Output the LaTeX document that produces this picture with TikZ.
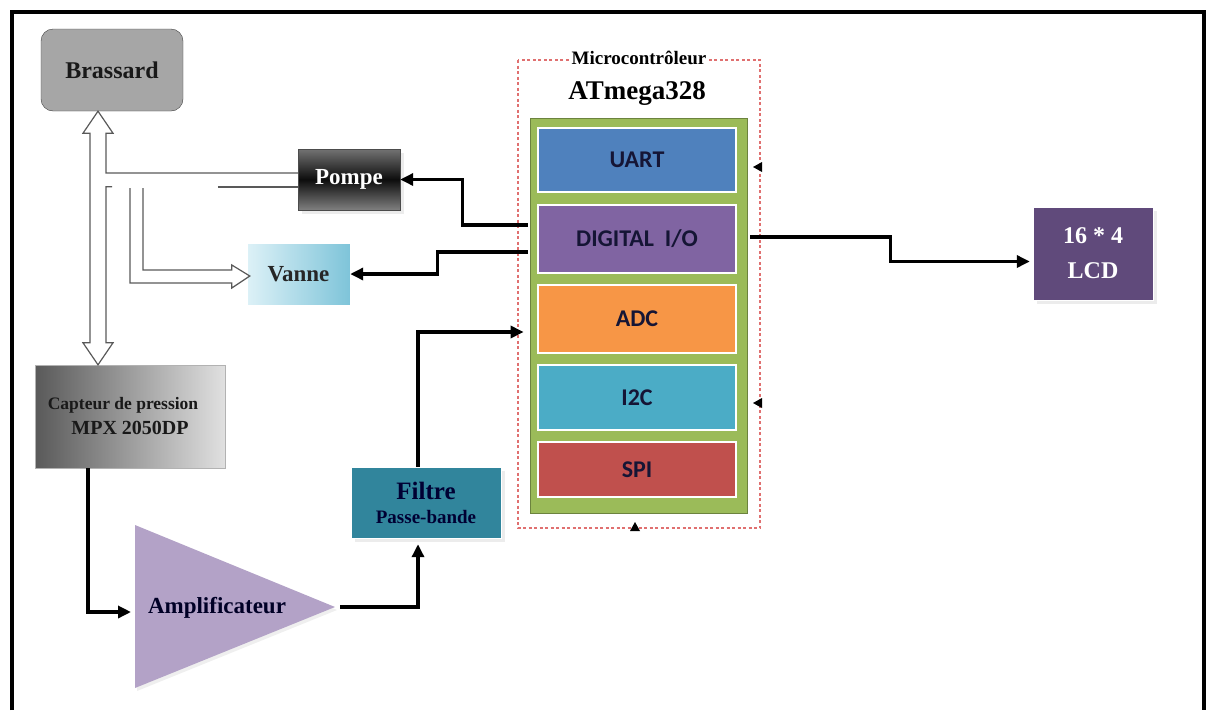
\documentclass[tikz,border=0pt]{standalone}
\usepackage{fontspec}
\setmainfont{Liberation Serif}
\newfontfamily\calfont{Carlito}
\usetikzlibrary{arrows.meta,calc,shadows,positioning}

\definecolor{uartcol}{HTML}{4F81BD}
\definecolor{diocol}{HTML}{8064A2}
\definecolor{adccol}{HTML}{F79646}
\definecolor{i2ccol}{HTML}{4BACC6}
\definecolor{spicol}{HTML}{C0504D}
\definecolor{mcugreen}{HTML}{9BBB59}
\definecolor{modtext}{HTML}{151535}
\definecolor{lcdcol}{HTML}{604A7B}
\definecolor{filtrecol}{HTML}{31859C}
\definecolor{ampcol}{HTML}{B3A2C7}
\definecolor{framered}{HTML}{E07070}

\tikzset{
  blk/.style={inner sep=0pt, align=center, font=\bfseries},
  module/.style={draw=white, line width=2.5pt, minimum width=198pt, inner sep=0pt,
    text=modtext, font=\calfont\bfseries\fontsize{24}{28}\selectfont},
  sig/.style={line width=3.5pt, -{Triangle[length=13pt,width=12pt]}},
  tube/.style={draw=gray!70!black, line width=1.2pt},
  shade box/.style={drop shadow={shadow xshift=4pt, shadow yshift=-4pt, fill=gray!30}},
}

\begin{document}
\begin{tikzpicture}[x=1pt, y=-1pt]
\useasboundingbox (0,0) rectangle (1207,710);

% frame
\draw[line width=4pt] (12,710) -- (12,12) -- (1204,12) -- (1204,710);

% microcontroller
\draw[framered, line width=1.3pt, dash pattern=on 3pt off 2.5pt] (518,60) rectangle (760,528);
\node[font=\bfseries\fontsize{19}{22}\selectfont, fill=white, inner sep=3pt] (mctitle) at (639,58) {Microcontrôleur};
\node[font=\bfseries\fontsize{27}{30}\selectfont] (atmega) at (637,93) {ATmega328};
\node[fill=mcugreen, draw=mcugreen!70!black, line width=0.8pt, minimum width=217pt, minimum height=395pt] (mcu) at (638.5,315.5) {};

\node[module, fill=uartcol, minimum height=64pt] (uart) at (637,160) {UART};
\node[module, fill=diocol, minimum height=68pt] (dio) at (637,239) {DIGITAL\ \ I/O};
\node[module, fill=adccol, minimum height=68pt] (adc) at (637,319) {ADC};
\node[module, fill=i2ccol, minimum height=65pt] (i2c) at (637,397.5) {I2C};
\node[module, fill=spicol, minimum height=55pt] (spi) at (637,469.5) {SPI};

% small tips on the frame
\fill (753,167) -- ++(9,-5) -- ++(0,10) -- cycle;
\fill (753,403) -- ++(9,-5) -- ++(0,10) -- cycle;
\fill (635,522) -- ++(-5,9) -- ++(10,0) -- cycle;

% blocks
\node[blk, draw=gray!50!black, fill=gray!70, rounded corners=12pt, minimum width=142pt, minimum height=82pt,
  text=black!90, font=\bfseries\fontsize{24}{28}\selectfont] (brassard) at (112,70) {Brassard};
\node[blk, draw=gray!60!black, top color=black!55, bottom color=black!50, middle color=black!95,
  minimum width=102pt, minimum height=61pt, text=white, font=\bfseries\fontsize{23}{26}\selectfont, shade box] (pompe) at (349,179.5) {Pompe};
\node[blk, draw=white, left color={rgb,255:red,221;green,241;blue,247}, right color={rgb,255:red,126;green,196;blue,217},
  minimum width=103pt, minimum height=62pt, text=black!85, font=\bfseries\fontsize{23}{26}\selectfont] (vanne) at (298.5,274) {Vanne};
\node[blk, fill=lcdcol, draw=white, minimum width=120pt, minimum height=93pt, text=white,
  font=\bfseries\fontsize{24}{35}\selectfont, shade box] (lcd) at (1093,253.5) {16 * 4\\LCD};
\node[blk, draw=gray!60, left color=black!65, right color=black!12, minimum width=190pt, minimum height=103pt,
  text=black!90, font=\bfseries\fontsize{17.5}{24}\selectfont] (capteur) at (130,416.5) {Capteur de pression\hspace*{14pt}\\[1pt]\fontsize{20}{24}\selectfont MPX 2050DP};
\node[blk, fill=filtrecol, draw=white, minimum width=150pt, minimum height=71pt, text=black!80!blue,
  font=\bfseries\fontsize{25}{24}\selectfont, shade box] (filtre) at (426,502.5) {Filtre\\\fontsize{19}{22}\selectfont Passe-bande};

% amplifier
\fill[ampcol, drop shadow={shadow xshift=2pt, shadow yshift=-3pt, fill=gray!25}] (135,525) -- (335,607) -- (135,688) -- cycle;
\node[font=\bfseries\fontsize{23}{26}\selectfont, text=black!85!blue] (amp) at (217,608) {Amplificateur};
\coordinate (ampin) at (131,612);
\coordinate (ampout) at (340,607);

% pneumatic tubes
\coordinate (pipe) at (98,0);
\draw[tube] ($(pompe.west)+(0,-6.5)$) -| ($(pipe |- brassard.south)+(8,22)$) -- ++(7,0) -- (pipe |- brassard.south)
  -- ++(-15,22) -- ++(7,0) -- ($(pipe |- capteur.north)+(-8,-22)$) -- ++(-7,0) -- (pipe |- capteur.north)
  -- ++(15,-22) -- ++(-7,0) -- ++(0,-156) -- ++(6,0);
\draw[tube] ($(pompe.west)+(-80,7.5)$) -- ($(pompe.west)+(0,7.5)$);
\draw[tube] (130,188) |- ($(vanne.west)+(-15,9)$) -- ++(0,5) -- ($(vanne.west)+(3,2)$) -- ++(-18,-11) -- ++(0,5) -| (143,188);

% signals
\draw[sig] ($(mcu.west |- dio)+(-2,-14)$) -- ++(-65,0) |- (pompe.east);
\draw[sig] ($(mcu.west |- dio)+(-2,13)$) -- ++(-90,0) |- (vanne.east);
\draw[sig] ($(mcu.east |- dio)+(3,-2)$) -- ++(140,0) |- ($(lcd.west)+(-3,8)$);
\draw[sig] ($(capteur.south west)+(53,0)$) |- (ampin);
\draw[sig] (ampout) -| ($(filtre.south)+(-8,6)$);
\draw[sig] ($(filtre.north)+(-8,0)$) |- ($(mcu.west |- adc)+(-6,13)$);

\end{tikzpicture}
\end{document}
